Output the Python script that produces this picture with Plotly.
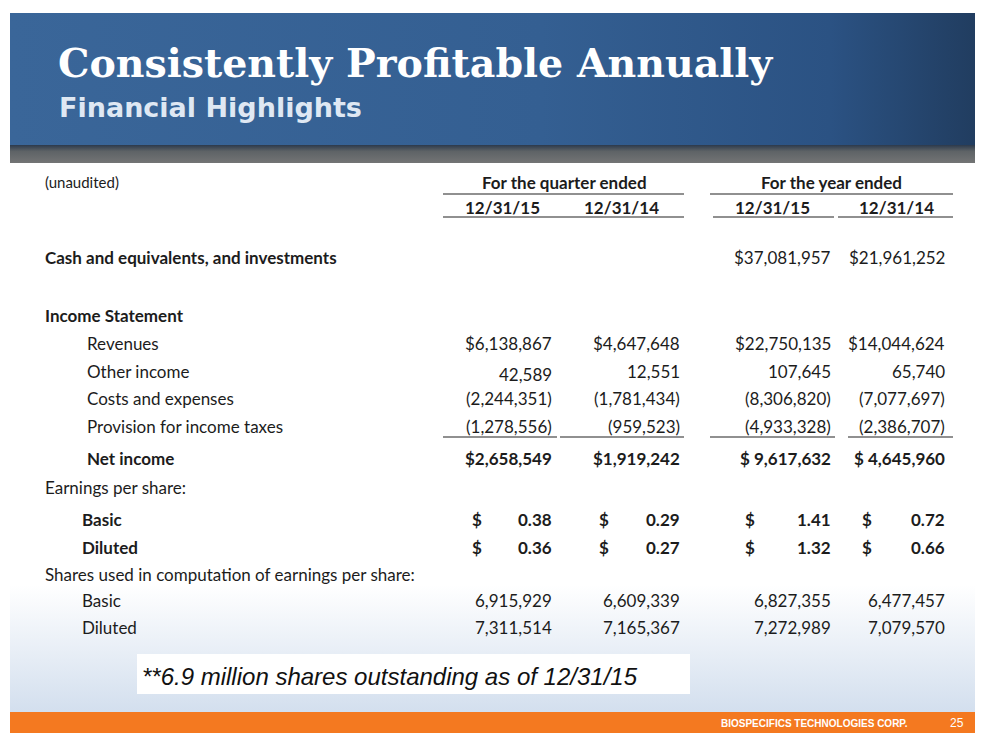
import plotly.graph_objects as go

# slide text
title = "Consistently Profitable Annually"
subtitle = "Financial Highlights"
note = "**6.9 million shares outstanding as of 12/31/15"
footer = "BIOSPECIFICS TECHNOLOGIES CORP."
page_no = "25"

group_headers = ["For the quarter ended", "For the year ended"]
col_headers = ["12/31/15", "12/31/14", "12/31/15", "12/31/14"]

cash = [None, None, 37081957, 21961252]
revenues = [6138867, 4647648, 22750135, 14044624]
other_income = [42589, 12551, 107645, 65740]
costs = [-2244351, -1781434, -8306820, -7077697]
provision = [-1278556, -959523, -4933328, -2386707]
net_income = [2658549, 1919242, 9617632, 4645960]
eps_basic = [0.38, 0.29, 1.41, 0.72]
eps_diluted = [0.36, 0.27, 1.32, 0.66]
shares_basic = [6915929, 6609339, 6827355, 6477457]
shares_diluted = [7311514, 7165367, 7272989, 7079570]

W, H = 991, 752
col_right = [554, 682, 833, 947]
col_dollar = [470, 597, 743, 860]
col_center = [502, 621, 772, 896]
group_center = [564, 831]

TXT = "#1c1c1c"
FONT = "Lato"
FS = 17


def money(v, dollar=False, gap=""):
    if v is None:
        return ""
    s = f"{abs(v):,}"
    if v < 0:
        return "(" + s + ")"
    return ("$" + gap + s) if dollar else s


fig = go.Figure()

# header banner (horizontal gradient)
fig.add_trace(go.Scatter(
    x=[10, 975, 975, 10, 10], y=[13, 13, 146, 146, 13], mode="lines",
    fill="toself", line=dict(width=0), hoverinfo="skip",
    fillgradient=dict(type="horizontal", start=10, stop=975,
                      colorscale=[[0, "#3a6699"], [0.55, "#345f92"],
                                  [0.85, "#2b5283"], [1, "#213d60"]])))
fig.add_trace(go.Scatter(
    x=[10, 975, 975, 10, 10], y=[145, 145, 163, 163, 145], mode="lines",
    fill="toself", line=dict(width=0), hoverinfo="skip",
    fillgradient=dict(type="vertical", start=145, stop=163,
                      colorscale=[[0, "#2c3a4c"], [0.35, "#5e6366"], [1, "#737475"]])))
# light blue wash at the bottom
fig.add_trace(go.Scatter(
    x=[10, 975, 975, 10, 10], y=[585, 585, 712, 712, 585], mode="lines",
    fill="toself", line=dict(width=0), hoverinfo="skip",
    fillgradient=dict(type="vertical", start=585, stop=712,
                      colorscale=[[0, "#ffffff"], [1, "#d3dfee"]])))

shapes = [
    dict(type="rect", x0=137, x1=690, y0=654, y1=694, fillcolor="white", line_width=0),
    dict(type="rect", x0=10, x1=975, y0=712, y1=733, fillcolor="#f47920", line_width=0),
]
# header rules
for x0, x1, y in [(443, 684, 194), (710, 953, 194), (443, 684, 217),
                  (713, 834, 217), (838, 953, 217),
                  (443, 557, 437), (560, 684, 437), (710, 835, 437), (848, 953, 437)]:
    shapes.append(dict(type="line", x0=x0, x1=x1, y0=y, y1=y,
                       line=dict(color="#222222", width=1.2)))

ann = []


def text(x, y, s, size=FS, bold=False, anchor="left", color=TXT, family=FONT, italic=False):
    if bold:
        s = "<b>" + s + "</b>"
    if italic:
        s = "<i>" + s + "</i>"
    ann.append(dict(x=x, y=y, text=s, showarrow=False, xanchor=anchor, yanchor="middle",
                    font=dict(size=size, color=color, family=family)))


text(56, 63, title, size=39.5, bold=True, color="white", family="DejaVu Serif")
text(57, 107, subtitle, size=27, bold=True, color="#dfe8f3", family="DejaVu Sans")
text(140, 676, note, size=24, italic=True, color="#111111", family="Liberation Sans")
text(910, 723, footer, size=10, bold=True, anchor="right", color="white",
     family="Liberation Sans")
text(966, 723, page_no, size=12, anchor="right", color="white", family="Liberation Sans")

text(43, 182, "(unaudited)", size=15)
for cx, g in zip(group_center, group_headers):
    text(cx, 182, g, bold=True, anchor="center")
for cx, c in zip(col_center, col_headers):
    text(cx, 207, c, bold=True, anchor="center")

rows = [
    (257, "Cash and equivalents, and investments", 43, True, [money(v, True) for v in cash], False),
    (315, "Income Statement", 43, True, None, False),
    (343, "Revenues", 85, False, [money(v, True) for v in revenues], False),
    (371, "Other income", 85, False, [money(v) for v in other_income], False),
    (398, "Costs and expenses", 85, False, [money(v) for v in costs], False),
    (426, "Provision for income taxes", 85, False, [money(v) for v in provision], False),
    (458, "Net income", 85, True,
     [money(v, True, "" if i < 2 else " ") for i, v in enumerate(net_income)], True),
    (487, "Earnings per share:", 43, False, None, False),
    (574, "Shares used in computation of earnings per share:", 43, False, None, False),
    (600, "Basic", 80, False, [money(v) for v in shares_basic], False),
    (627, "Diluted", 80, False, [money(v) for v in shares_diluted], False),
]
for y, label, lx, lbold, vals, vbold in rows:
    text(lx, y, label, bold=lbold)
    if vals:
        for i, s in enumerate(vals):
            dy = 3 if label == "Other income" and i == 0 else 0
            text(col_right[i], y + dy, s, bold=vbold, anchor="right")

for y, label, vals in [(519, "Basic", eps_basic), (547, "Diluted", eps_diluted)]:
    text(80, y, label, bold=True)
    for i, v in enumerate(vals):
        text(col_dollar[i], y, "$", bold=True)
        text(col_right[i], y, f"{v:.2f}", bold=True, anchor="right")

fig.update_layout(
    width=W, height=H, margin=dict(l=0, r=0, t=0, b=0),
    paper_bgcolor="white", plot_bgcolor="white", showlegend=False,
    xaxis=dict(range=[0, W], visible=False, fixedrange=True),
    yaxis=dict(range=[H, 0], visible=False, fixedrange=True),
    shapes=shapes, annotations=ann,
)
fig.write_html("out.html", config={"displayModeBar": False},
               post_script="document.body.style.margin='0';document.body.style.overflow='hidden';")
